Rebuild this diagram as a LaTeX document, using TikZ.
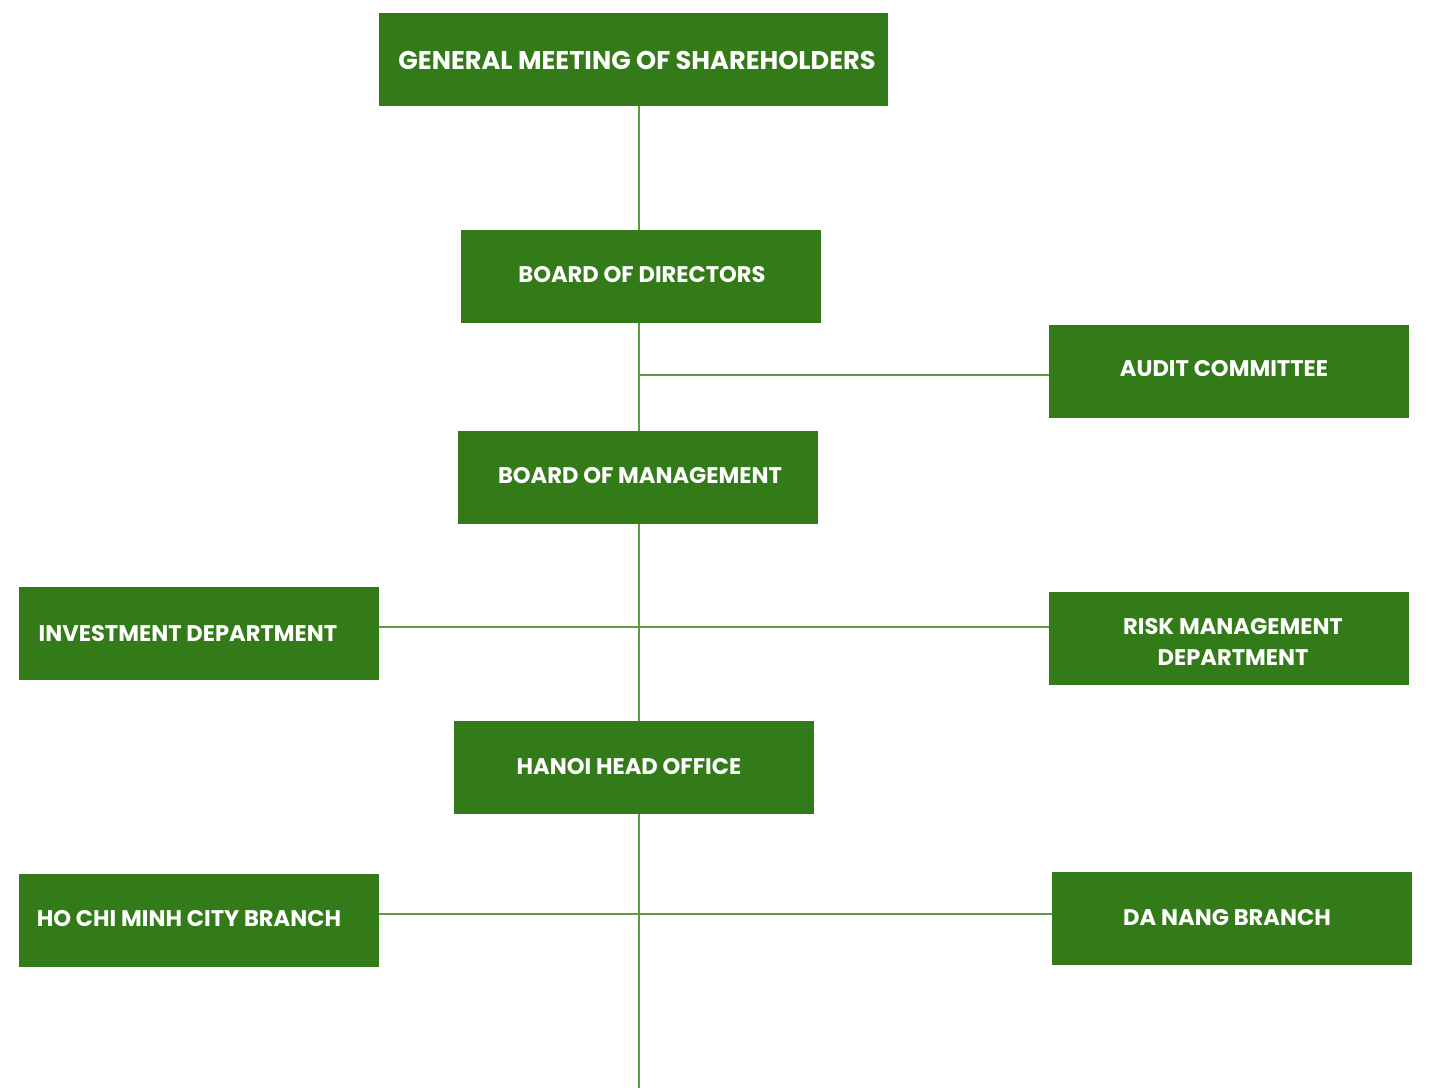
\documentclass[tikz,border=0pt]{standalone}
\usepackage{fontspec}
\usetikzlibrary{backgrounds}
\setmainfont{Poppins}[BoldFont={* Bold}]
\begin{document}
\begin{tikzpicture}[x=1pt,y=-1pt,
  unit/.style={fill=boxgreen, inner sep=0pt, anchor=north west,
    minimum width=360pt, minimum height=93pt},
  caption/.style={text=white, font=\bfseries\fontsize{22.6}{31}\selectfont,
    inner sep=0pt, align=center},
  bigcaption/.style={caption, font=\bfseries\fontsize{25.6}{31}\selectfont},
  link/.style={draw=linegreen, line width=2pt}]
\definecolor{boxgreen}{HTML}{337A18}
\definecolor{linegreen}{HTML}{5C9A45}
\useasboundingbox (0,0) rectangle (1431,1088);
% boxes, placed by their top-left corner
\node[unit, minimum width=509pt] (gms) at (379,13) {};
\node[unit] (bod) at (461,230) {};
\node[unit] (audit) at (1049,325) {};
\node[unit] (bom) at (458,431) {};
\node[unit] (inv) at (19,587) {};
\node[unit] (risk) at (1049,592) {};
\node[unit] (hanoi) at (454,721) {};
\node[unit] (hcm) at (19,874) {};
\node[unit] (dn) at (1052,872) {};
% captions
\node[bigcaption] (gms-t) at (637,60) {GENERAL MEETING OF SHAREHOLDERS};
\node[caption] (bod-t) at (642,275) {BOARD OF DIRECTORS};
\node[caption] (audit-t) at (1224,369) {AUDIT COMMITTEE};
\node[caption] (bom-t) at (640,476) {BOARD OF MANAGEMENT};
\node[caption] (inv-t) at (188,634) {INVESTMENT DEPARTMENT};
\node[caption] (risk-t) at (1233,642) {RISK MANAGEMENT\\DEPARTMENT};
\node[caption] (hanoi-t) at (629,767) {HANOI HEAD OFFICE};
\node[caption] (hcm-t) at (189,919) {HO CHI MINH CITY BRANCH};
\node[caption] (dn-t) at (1227,918) {DA NANG BRANCH};
% trunk and branches
\coordinate (trunk) at (639,1088);
\begin{scope}[on background layer]
\draw[link] (gms.south -| trunk) -- (trunk);
\draw[link] (trunk |- audit.west) ++(0,3) coordinate (a1) -- (a1 -| audit.west);
\draw[link] (inv.east) ++(0,-6.5) coordinate (i1) -- (i1 -| risk.west);
\draw[link] (hcm.east) ++(0,-7) coordinate (h1) -- (h1 -| dn.west);
\end{scope}
\end{tikzpicture}
\end{document}
